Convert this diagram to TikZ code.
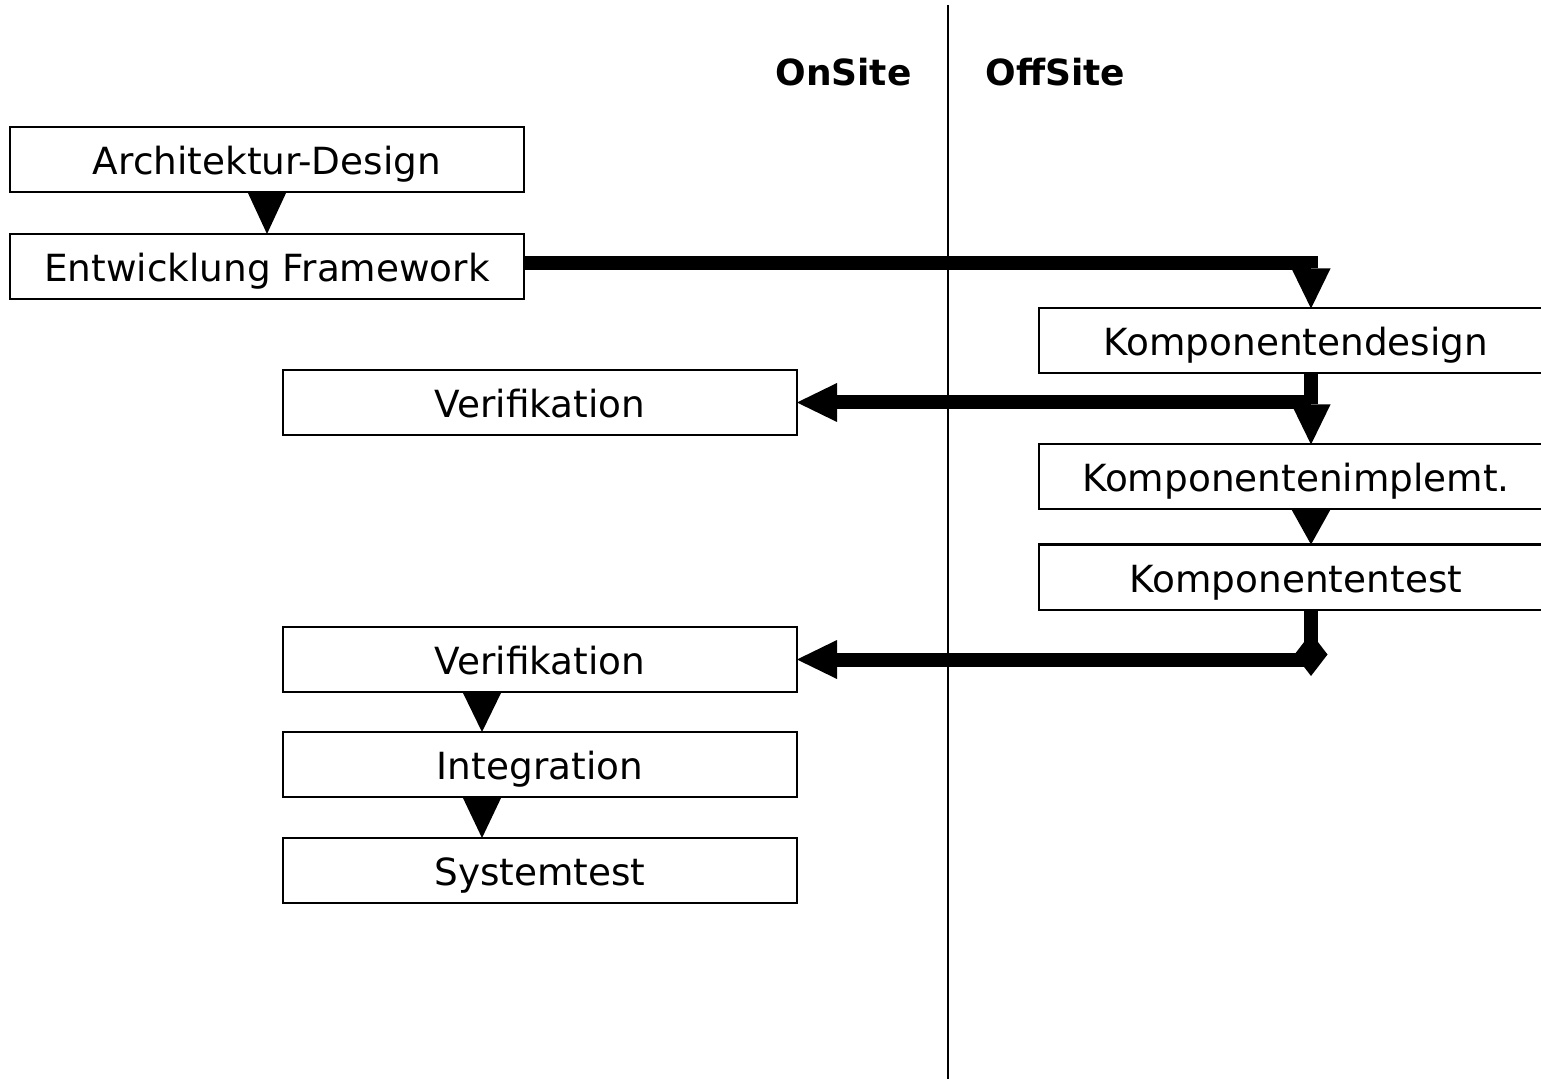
\documentclass[tikz,border=0pt]{standalone}
\usepackage{fontspec}
\setmainfont{DejaVu Sans}
\usetikzlibrary{positioning,arrows.meta}

\tikzset{
  phase/.style={draw, shape=rectangle, line width=1pt, minimum width=257pt, minimum height=32.5pt, inner sep=0pt, outer sep=0pt, text height=15pt, text depth=0pt},
  flow/.style={line width=7pt, -{Triangle[length=20pt,width=19.5pt,line width=0pt]}},
  handover/.style={line width=0pt, -{Triangle[length=#1,width=19.5pt,line width=0pt]}},
  lanetitle/.style={inner sep=0pt, font=\fontsize{18pt}{22pt}\bfseries}
}

\begin{document}
\begin{tikzpicture}[x=0.5pt, y=-0.5pt]
\fontsize{18.7pt}{22pt}\selectfont
\useasboundingbox (0,0) rectangle (1541,1079);
\clip (0,0) rectangle (1541,1079);

\coordinate (lane_top) at (948,5);
\coordinate (lane_bottom) at (948,1079);
\coordinate (offsite_lane) at (1311,0);
\draw[line width=1pt] (lane_top) -- (lane_bottom);

\node (onsite) [lanetitle, anchor=east] at (912,72) {OnSite};
\node (offsite) [lanetitle, anchor=west] at (985,72) {OffSite};

\node (arch_design) [phase] at (267,159.5) {Architektur-Design};
\node (framework) [phase, below=21pt of arch_design] {Entwicklung Framework};

\node (comp_design) [phase] at (1296,341) {Komponentendesign};
\node (comp_impl) [phase, below=35.5pt of comp_design] {Komponentenimplemt.};
\node (comp_test) [phase, below=17.5pt of comp_impl] {Komponententest};

\node (verif_one) [phase] at (540,402.5) {Verifikation};
\node (verif_two) [phase] at (540,659.5) {Verifikation};
\node (integration) [phase, below=20pt of verif_two] {Integration};
\node (system_test) [phase, below=20.5pt of integration] {Systemtest};

\draw[handover=21pt] (arch_design.south) -- (framework.north);
\draw[handover=17.5pt] (offsite_lane |- comp_impl.south) -- (offsite_lane |- comp_test.north);
\draw[handover=20pt] ([xshift=-29pt]verif_two.south) -- ([xshift=-29pt]integration.north);
\draw[handover=20.5pt] ([xshift=-29pt]integration.south) -- ([xshift=-29pt]system_test.north);

\draw[flow] ([yshift=1.5pt]framework.east) -| (offsite_lane |- comp_design.north);
\draw[flow] (offsite_lane |- comp_design.south) -- (offsite_lane |- comp_impl.north);
\draw[flow] (offsite_lane |- verif_one.east) -- (verif_one.east);

\coordinate (test_join) at (offsite_lane |- verif_two.east);
\draw[line width=7pt, -{Diamond[length=21.5pt,width=16.5pt,line width=0pt]}] (offsite_lane |- comp_test.south) -- ([yshift=-8.25pt]test_join);
\draw[flow] (test_join) -- (verif_two.east);
\end{tikzpicture}
\end{document}
